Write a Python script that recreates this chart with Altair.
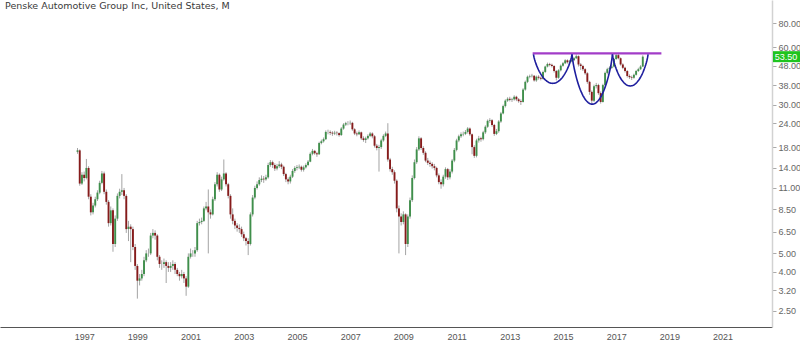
import math
import altair as alt
import pandas as pd

TITLE = "Penske Automotive Group Inc, United States, M"
START_YEAR, START_MONTH = 1996, 10
FIRST_OPEN = 17.0

# Monthly closes (Oct 1996 .. Jan 2018), one row per year
close = [
    17.3, 11.6, 12.9,                                                      # 1996 (Oct-Dec)
    12.4, 14.0, 9.9, 8.2, 8.9, 9.6, 10.4, 11.7, 13.1, 10.5, 9.3, 7.2,       # 1997
    8.4, 5.6, 7.6, 10.0, 10.5, 10.7, 10.0, 6.7, 6.9, 6.7, 5.4, 4.3,         # 1998
    3.6, 3.7, 3.9, 4.6, 5.0, 5.0, 6.2, 6.4, 6.2, 4.8, 4.4, 4.4,             # 1999
    4.5, 4.3, 4.2, 4.3, 4.4, 4.1, 3.9, 3.8, 3.9, 3.7, 3.35, 4.8,            # 2000
    5.0, 5.0, 5.2, 7.2, 7.3, 7.4, 8.6, 8.8, 8.2, 8.0, 9.6, 11.5,            # 2001
    12.9, 10.8, 12.2, 13.1, 11.5, 10.0, 8.0, 7.4, 7.0, 6.8, 6.7, 6.3,       # 2002
    6.0, 5.8, 5.6, 8.0, 9.8, 11.0, 11.5, 12.1, 12.3, 12.2, 12.5, 14.5,      # 2003
    15.0, 14.5, 13.9, 14.3, 14.6, 14.2, 13.0, 12.2, 11.9, 12.6, 13.5, 14.0, # 2004
    14.1, 14.2, 13.7, 14.1, 14.5, 15.1, 16.6, 17.2, 16.7, 16.5, 18.9, 19.3, # 2005
    19.8, 21.6, 21.6, 21.4, 21.2, 21.4, 21.3, 20.8, 22.5, 23.6, 24.0, 24.0, # 2006
    24.1, 22.3, 21.2, 21.0, 21.5, 20.0, 19.6, 20.0, 20.6, 21.2, 20.5, 18.3, # 2007
    17.8, 18.0, 19.5, 20.6, 21.2, 15.5, 13.8, 13.3, 12.0, 8.6, 7.8, 7.3,    # 2008
    8.0, 5.6, 7.8, 9.5, 12.4, 15.0, 17.5, 20.0, 17.8, 16.8, 15.3, 14.9,     # 2009
    14.7, 14.3, 14.0, 12.8, 11.8, 11.5, 12.6, 13.8, 12.5, 13.4, 15.3, 17.4, # 2010
    19.5, 20.5, 21.0, 21.1, 21.6, 22.5, 21.0, 18.0, 16.2, 19.5, 20.0, 19.8, # 2011
    21.5, 23.0, 24.7, 24.9, 23.5, 21.1, 21.8, 24.5, 27.0, 29.5, 31.5, 32.2, # 2012
    31.8, 32.0, 33.0, 32.0, 31.3, 31.0, 36.0, 39.5, 42.0, 42.3, 42.5, 40.2, # 2013
    42.0, 41.5, 41.0, 44.5, 47.5, 49.0, 48.5, 47.8, 45.0, 41.5, 45.4, 48.0, # 2014
    49.4, 51.2, 50.0, 50.5, 51.3, 52.5, 53.8, 48.7, 47.8, 46.0, 43.8, 39.5, # 2015
    35.0, 31.5, 37.5, 38.0, 34.5, 31.0, 38.0, 44.0, 46.0, 46.8, 47.5, 52.0, # 2016
    54.5, 52.5, 48.7, 46.8, 45.0, 42.4, 41.8, 41.5, 43.0, 45.0, 46.0, 47.5, # 2017
    53.5,                                                                  # 2018 (Jan)
]

high = [
    17.8, 17.5, 13.3,
    13.4, 15.6, 14.3, 10.2, 9.2, 9.9, 10.7, 12.0, 13.5, 13.4, 10.8, 9.5,
    8.8, 8.6, 7.9, 10.3, 10.9, 13.0, 11.0, 10.2, 7.4, 7.1, 6.9, 5.6,
    4.4, 3.9, 4.1, 4.8, 5.2, 5.3, 6.4, 6.7, 6.6, 6.3, 4.9, 4.6,
    4.7, 4.6, 4.5, 4.5, 4.6, 4.5, 4.2, 4.0, 4.1, 4.0, 3.8, 5.0,
    5.3, 5.2, 5.4, 7.4, 7.6, 7.7, 8.8, 9.3, 10.8, 8.5, 9.9, 11.8,
    13.3, 13.1, 12.6, 15.5, 13.3, 11.7, 10.2, 8.6, 7.6, 7.2, 7.1, 6.9,
    6.5, 6.1, 6.0, 8.2, 10.1, 11.3, 11.9, 12.5, 12.8, 12.7, 12.9, 14.9,
    15.4, 15.3, 14.8, 14.7, 15.2, 14.9, 14.4, 13.2, 12.5, 12.9, 13.8, 14.3,
    14.5, 14.6, 14.4, 14.4, 14.8, 15.4, 16.9, 17.6, 17.4, 17.0, 19.2, 19.7,
    20.2, 22.0, 22.2, 22.0, 21.8, 21.9, 21.8, 21.5, 22.9, 24.0, 24.4, 24.6,
    24.8, 24.4, 22.6, 21.7, 22.0, 21.7, 20.5, 20.4, 21.0, 21.6, 21.5, 20.8,
    18.7, 18.5, 19.9, 21.0, 21.7, 24.0, 15.8, 14.2, 13.6, 12.2, 8.9, 8.1,
    8.3, 8.1, 8.0, 9.8, 12.8, 15.5, 18.0, 20.5, 20.3, 18.2, 17.1, 15.8,
    15.3, 15.0, 14.7, 14.2, 13.1, 12.2, 12.9, 14.1, 14.0, 13.8, 15.6, 17.8,
    19.9, 20.9, 21.5, 21.7, 22.1, 22.9, 22.8, 21.2, 18.4, 19.9, 20.6, 20.4,
    21.9, 23.4, 25.1, 25.5, 25.2, 23.8, 22.4, 24.9, 27.5, 30.0, 32.0, 32.8,
    33.0, 32.6, 33.6, 33.4, 32.5, 32.0, 36.6, 40.1, 42.6, 43.1, 43.5, 42.9,
    42.6, 42.8, 42.1, 45.2, 48.0, 49.8, 49.7, 49.2, 48.3, 45.6, 46.0, 48.7,
    50.2, 51.9, 51.8, 51.5, 52.0, 53.2, 55.0, 54.3, 49.6, 48.5, 46.6, 44.4,
    40.0, 35.6, 38.2, 39.0, 38.6, 35.2, 38.6, 44.7, 46.8, 47.6, 48.8, 52.8,
    55.2, 55.2, 53.0, 49.4, 47.4, 45.5, 43.2, 42.6, 43.6, 45.6, 46.8, 48.3,
    54.4,
]

low = [
    16.6, 11.3, 11.4,
    11.9, 12.2, 9.6, 7.9, 8.0, 8.7, 9.4, 10.2, 11.5, 10.2, 9.0, 6.9,
    7.0, 5.1, 5.4, 7.4, 9.7, 10.1, 9.6, 6.4, 5.8, 4.5, 5.2, 4.1,
    2.9, 3.4, 3.6, 3.8, 4.5, 4.8, 4.9, 6.0, 5.9, 4.6, 4.2, 4.1,
    4.2, 3.5, 4.0, 4.0, 4.1, 3.9, 3.8, 3.6, 3.7, 3.5, 3.0, 3.3,
    4.7, 4.8, 4.8, 5.1, 7.0, 7.1, 7.3, 8.4, 5.0, 7.6, 7.9, 9.4,
    11.2, 10.5, 10.6, 12.0, 11.2, 9.7, 7.6, 7.1, 6.7, 6.5, 6.4, 6.1,
    5.8, 5.5, 4.9, 5.5, 7.8, 9.6, 10.8, 11.3, 11.8, 11.7, 12.0, 12.3,
    14.2, 14.0, 13.5, 13.6, 14.0, 13.8, 12.7, 11.8, 11.5, 11.6, 12.4, 13.2,
    13.6, 13.8, 13.4, 13.4, 13.9, 14.3, 15.0, 16.3, 16.4, 16.0, 16.4, 18.6,
    19.0, 19.6, 21.0, 20.8, 20.6, 20.8, 20.7, 20.4, 20.6, 22.2, 23.2, 23.4,
    23.5, 21.9, 20.8, 20.5, 20.8, 19.6, 19.2, 18.9, 19.7, 20.3, 20.0, 17.9,
    17.3, 13.4, 17.6, 19.2, 20.3, 15.1, 13.4, 12.9, 11.6, 8.2, 5.0, 7.0,
    7.1, 4.9, 5.4, 7.6, 9.3, 12.2, 14.7, 17.2, 17.4, 16.4, 15.0, 14.5,
    14.2, 13.9, 13.6, 12.5, 11.5, 10.9, 11.2, 12.3, 12.1, 12.2, 13.1, 15.0,
    17.1, 19.1, 20.1, 20.5, 20.8, 21.2, 20.6, 16.5, 15.8, 15.9, 19.0, 19.2,
    19.5, 21.1, 22.7, 24.1, 23.0, 20.6, 20.8, 21.4, 24.1, 26.7, 29.0, 31.0,
    31.2, 31.0, 31.5, 31.3, 30.7, 29.9, 30.8, 35.5, 38.9, 41.2, 41.6, 39.6,
    39.5, 40.6, 40.2, 40.6, 44.0, 47.0, 47.6, 47.0, 44.2, 40.2, 41.0, 44.8,
    47.4, 48.9, 49.2, 49.6, 50.0, 50.8, 52.0, 47.5, 45.6, 45.0, 43.0, 38.6,
    33.8, 30.4, 31.0, 36.5, 33.8, 30.4, 30.8, 37.6, 43.2, 45.2, 46.2, 47.0,
    51.5, 51.8, 48.0, 46.0, 44.2, 41.6, 40.9, 40.4, 41.0, 42.6, 44.5, 45.6,
    47.2,
]

# Annotations drawn on the chart (time in decimal years, price)
resistance_t = [2013.86, 2018.70]
resistance_price = 55.7
cup_left = [2013.89, 2015.34, 2016.86]
cup_right = [2015.34, 2016.86, 2018.20]
cup_top = [55.0, 55.0, 55.0]
cup_bottom = [38.8, 30.2, 37.6]

x_ticks = [1997, 1999, 2001, 2003, 2005, 2007, 2009, 2011, 2013, 2015, 2017, 2019, 2021]
y_ticks = [2.5, 3.2, 4.0, 5.0, 6.5, 8.5, 11.0, 14.0, 18.0, 24.0, 30.0, 38.0, 48.0, 60.0, 80.0]

UP = "#3f8f4b"
DOWN = "#861b1b"
WICK = "#8d8d8d"
FONT = "Liberation Sans"

rows = []
for i, c in enumerate(close):
    k = START_MONTH - 1 + i
    year = START_YEAR + k // 12
    month = k % 12 + 1
    o = FIRST_OPEN if i == 0 else close[i - 1]
    rows.append({
        "t": year + (month - 1) / 12.0,
        "open": o, "close": c, "high": high[i], "low": low[i],
        "dir": "up" if c >= o else "down",
    })
df = pd.DataFrame(rows)

# U-shaped cup outlines through rim and bottom anchors (log-price space)
cup_rows = []
for j in range(3):
    c0 = (cup_left[j] + cup_right[j]) / 2
    a = (cup_right[j] - cup_left[j]) / 2
    lt, lb = math.log(cup_top[j]), math.log(cup_bottom[j])
    n = 60
    for s in range(n + 1):
        u = -1 + 2 * s / n
        depth = (1 - u * u) ** 0.8
        cup_rows.append({
            "cup": j, "i": s,
            "t": c0 + a * u,
            "p": math.exp(lt - (lt - lb) * depth),
        })
cups = pd.DataFrame(cup_rows)

xs = alt.Scale(domain=[1994.024, 2022.67], nice=False, zero=False)
ys = alt.Scale(type="log", domain=[2.06, 105.9], nice=False, zero=False)

x_axis = alt.Axis(values=x_ticks, format="d", title=None, grid=False, ticks=False,
                  labelFont=FONT, labelFontSize=9, labelColor="#555555",
                  domainColor="#555555", domainWidth=1, labelPadding=5)
y_axis = alt.Axis(values=y_ticks, format=".2f", orient="right", title=None, grid=False,
                  labelFont=FONT, labelFontSize=9, labelColor="#666666",
                  tickColor="#aaaaaa", tickSize=4, domainColor="#d2d2d2", domainWidth=1.5,
                  labelPadding=2, labelOverlap=False)

base = alt.Chart(df)
wicks = base.mark_rule(color=WICK, strokeWidth=0.8).encode(
    x=alt.X("t:Q", scale=xs, axis=x_axis),
    y=alt.Y("low:Q", scale=ys, axis=y_axis),
    y2="high:Q",
)
bodies = base.mark_bar(size=1.9).encode(
    x=alt.X("t:Q", scale=xs),
    y=alt.Y("open:Q", scale=ys),
    y2="close:Q",
    color=alt.Color("dir:N", scale=alt.Scale(domain=["up", "down"], range=[UP, DOWN]), legend=None),
)

res_df = pd.DataFrame({"t1": [resistance_t[0]], "t2": [resistance_t[1]], "p": [resistance_price]})
resistance = alt.Chart(res_df).mark_rule(color="#a23cc8", strokeWidth=2.4).encode(
    x=alt.X("t1:Q", scale=xs), x2="t2:Q", y=alt.Y("p:Q", scale=ys)
)

cup_lines = alt.Chart(cups).mark_line(color="#1e1e9e", strokeWidth=1.6).encode(
    x=alt.X("t:Q", scale=xs), y=alt.Y("p:Q", scale=ys), detail="cup:N", order="i:Q"
)

last_df = pd.DataFrame({"p": [close[-1]], "label": [f"{close[-1]:.2f}"]})
last_box = alt.Chart(last_df).mark_rule(color="#1fc41f", strokeWidth=11).encode(
    x=alt.value(773), x2=alt.value(800), y=alt.Y("p:Q", scale=ys)
)
last_text = alt.Chart(last_df).mark_text(font=FONT, fontSize=9, color="#ffffff", align="center", baseline="middle").encode(
    x=alt.value(786), y=alt.Y("p:Q", scale=ys), text="label:N"
)

title_df = pd.DataFrame({"label": [TITLE]})
title = alt.Chart(title_df).mark_text(font="DejaVu Sans", fontSize=9.5, color="#3a3a3a", align="left", baseline="alphabetic").encode(
    x=alt.value(5), y=alt.value(9), text="label:N"
)

chart = alt.layer(wicks, bodies, resistance, cup_lines, last_box, last_text, title).properties(
    width=772, height=327,
    autosize=alt.AutoSizeParams(type="none"),
    padding={"left": 0, "top": 0, "right": 28, "bottom": 13},
    background="#ffffff",
).configure_view(stroke=None)

chart.save("out.html", embed_options={"renderer": "svg", "actions": False})
